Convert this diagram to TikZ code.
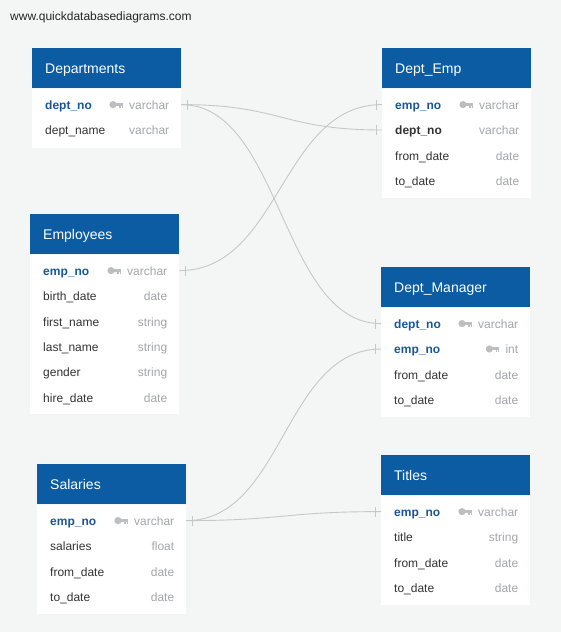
\documentclass[tikz,border=0pt]{standalone}
\usepackage{fontspec}
\setmainfont{Liberation Sans}
\usetikzlibrary{positioning}

\definecolor{qdbg}{RGB}{244,245,245}
\definecolor{qdblue}{RGB}{11,92,163}
\definecolor{keyblue}{RGB}{24,88,152}
\definecolor{fieldtext}{RGB}{52,52,52}
\definecolor{typegray}{RGB}{163,166,170}
\definecolor{keygray}{RGB}{188,191,194}
\definecolor{linkgray}{RGB}{198,199,200}

\newcommand{\headfont}{\fontsize{14pt}{16pt}\selectfont}
\newcommand{\fieldfont}{\fontsize{12pt}{14pt}\selectfont}
\newcommand{\fld}[1]{\detokenize\expandafter{#1}}

\tikzset{
  tblhead/.style={anchor=north west, fill=qdblue, text=white, font=\headfont,
    minimum width=149pt, minimum height=40pt, text width=123pt, inner xsep=13pt,
    inner ysep=0pt, align=left, text height=12pt, text depth=1pt},
  tblbody/.style={fill=white, minimum width=149pt, inner sep=0pt},
  fieldrow/.style={minimum width=149pt, minimum height=25pt, text width=123pt,
    inner xsep=13pt, inner ysep=0pt, align=left, font=\fieldfont, text=fieldtext,
    text height=10.4pt, text depth=1pt},
  keyrow/.style={fieldrow, text=keyblue, font=\fieldfont\bfseries},
  fkrow/.style={fieldrow, font=\fieldfont\bfseries},
  ftype/.style={font=\fieldfont, text=typegray, inner sep=0pt,
    text height=10.4pt, text depth=1pt},
  link/.style={draw=linkgray, line width=0.9pt},
  pkey/.pic={
    \fill[keygray] (0,0) circle (3.6pt);
    \fill[keygray] (2,-1.7) rectangle (10,1.3);
    \fill[keygray] (6.2,1) rectangle (7.6,3.3);
    \fill[keygray] (8.6,1) rectangle (10,3.3);
  },
}

% plain rows of a table, hung one below the other
\newcommand{\tblrows}[3]{%
  \foreach \f/\t [remember=\f as \p (initially #2)] in {#3} {
    \node[fieldrow, below=0pt of #1-\p] (#1-\f) {\fld\f};
    \node[ftype, left=12pt of #1-\f.east] (#1-\f-type) {\t};
  }}

\begin{document}
\begin{tikzpicture}[x=1pt, y=-1pt]

\useasboundingbox (0,0) rectangle (561,632);
\fill[qdbg] (0,0) rectangle (561,632);

\node[font=\fieldfont, text=black!85, anchor=west, inner sep=0pt] (url) at (10,17)
  {www.quickdatabasediagrams.com};

% Departments
\node[tblhead] (departments) at (32,48) {Departments};
\node[tblbody, below=0pt of departments, minimum height=59pt] (departments-body) {};
\node[keyrow, below=3.5pt of departments] (departments-dept_no) {dept\_no};
\node[ftype, left=12pt of departments-dept_no.east] (departments-dept_no-type) {varchar};
\pic at ([xshift=-16pt]departments-dept_no-type.west) {pkey};
\tblrows{departments}{dept_no}{dept_name/varchar}

% Dept_Emp
\node[tblhead] (deptemp) at (382,48) {Dept\_Emp};
\node[tblbody, below=0pt of deptemp, minimum height=109pt] (deptemp-body) {};
\node[keyrow, below=3.5pt of deptemp] (deptemp-emp_no) {emp\_no};
\node[ftype, left=12pt of deptemp-emp_no.east] (deptemp-emp_no-type) {varchar};
\pic at ([xshift=-16pt]deptemp-emp_no-type.west) {pkey};
\node[fkrow, below=0pt of deptemp-emp_no] (deptemp-dept_no) {dept\_no};
\node[ftype, left=12pt of deptemp-dept_no.east] (deptemp-dept_no-type) {varchar};
\tblrows{deptemp}{dept_no}{from_date/date, to_date/date}

% Employees
\node[tblhead] (employees) at (30,214) {Employees};
\node[tblbody, below=0pt of employees, minimum height=159pt] (employees-body) {};
\node[keyrow, below=3.5pt of employees] (employees-emp_no) {emp\_no};
\node[ftype, left=12pt of employees-emp_no.east] (employees-emp_no-type) {varchar};
\pic at ([xshift=-16pt]employees-emp_no-type.west) {pkey};
\tblrows{employees}{emp_no}{birth_date/date, first_name/string, last_name/string,
  gender/string, hire_date/date}

% Dept_Manager
\node[tblhead] (deptmanager) at (381,267) {Dept\_Manager};
\node[tblbody, below=0pt of deptmanager, minimum height=109pt] (deptmanager-body) {};
\node[keyrow, below=3.5pt of deptmanager] (deptmanager-dept_no) {dept\_no};
\node[ftype, left=12pt of deptmanager-dept_no.east] (deptmanager-dept_no-type) {varchar};
\pic at ([xshift=-16pt]deptmanager-dept_no-type.west) {pkey};
\node[keyrow, below=0pt of deptmanager-dept_no] (deptmanager-emp_no) {emp\_no};
\node[ftype, left=12pt of deptmanager-emp_no.east] (deptmanager-emp_no-type) {int};
\pic at ([xshift=-16pt]deptmanager-emp_no-type.west) {pkey};
\tblrows{deptmanager}{emp_no}{from_date/date, to_date/date}

% Salaries
\node[tblhead] (salaries) at (37,464) {Salaries};
\node[tblbody, below=0pt of salaries, minimum height=109pt] (salaries-body) {};
\node[keyrow, below=3.5pt of salaries] (salaries-emp_no) {emp\_no};
\node[ftype, left=12pt of salaries-emp_no.east] (salaries-emp_no-type) {varchar};
\pic at ([xshift=-16pt]salaries-emp_no-type.west) {pkey};
\tblrows{salaries}{emp_no}{salaries/float, from_date/date, to_date/date}

% Titles
\node[tblhead] (titles) at (381,455) {Titles};
\node[tblbody, below=0pt of titles, minimum height=109pt] (titles-body) {};
\node[keyrow, below=3.5pt of titles] (titles-emp_no) {emp\_no};
\node[ftype, left=12pt of titles-emp_no.east] (titles-emp_no-type) {varchar};
\pic at ([xshift=-16pt]titles-emp_no-type.west) {pkey};
\tblrows{titles}{emp_no}{title/string, from_date/date, to_date/date}

% relations
\draw[link] (departments-dept_no.east) .. controls +(100,0) and +(-100,0) .. (deptemp-dept_no.west);
\draw[link] (departments-dept_no.east) .. controls +(100,0) and +(-100,0) .. (deptmanager-dept_no.west);
\draw[link] (employees-emp_no.east) .. controls +(101,0) and +(-101,0) .. (deptemp-emp_no.west);
\draw[link] (salaries-emp_no.east) .. controls +(97,0) and +(-97,0) .. (deptmanager-emp_no.west);
\draw[link] (salaries-emp_no.east) .. controls +(97,0) and +(-97,0) .. (titles-emp_no.west);

% one-to-one ticks
\foreach \a/\s in {departments-dept_no.east/1, employees-emp_no.east/1,
  salaries-emp_no.east/1, deptemp-emp_no.west/-1, deptemp-dept_no.west/-1,
  deptmanager-dept_no.west/-1, deptmanager-emp_no.west/-1, titles-emp_no.west/-1}
  \draw[link] ([xshift=\s*6pt]\a) ++(0,-5) -- ++(0,10);

\end{tikzpicture}
\end{document}
